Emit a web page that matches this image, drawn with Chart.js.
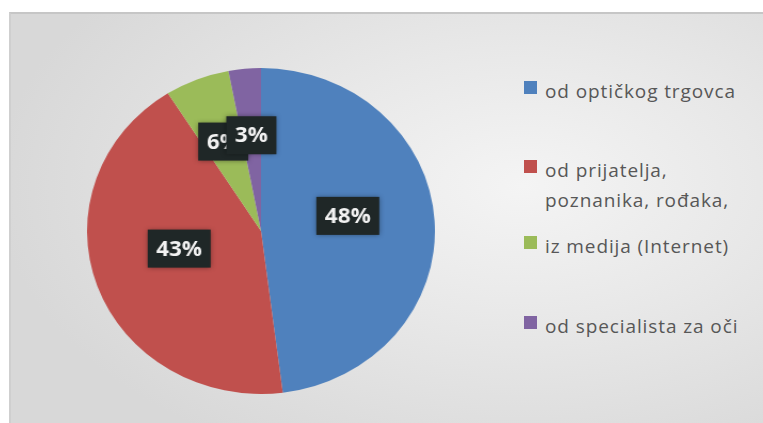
<!DOCTYPE html>
<html>
<head>
<meta charset="utf-8">
<script src="https://cdn.jsdelivr.net/npm/chart.js@4.4.0/dist/chart.umd.min.js"></script>
<style>
body { margin: 0; width: 763px; height: 423px; background: #fff; position: relative; overflow: hidden; font-family: 'Open Sans', sans-serif }
#panel {
    position: absolute; left: 9px; top: 12px; width: 754px; height: 411px;
    background: radial-gradient(ellipse 70% 75% at 68% 42%, #f4f4f4 0%, #e8e8e8 45%, #d8d8d8 100%);
    border-top: 2px solid #c6c6c6; border-left: 2px solid #cfcfcf; box-sizing: border-box;
}
#pieWrap { position: absolute; left: 97.5px; top: 68px; width: 326px; height: 326px; transform: scaleX(1.067); transform-origin: 163px 163px }
.item { position: absolute; left: 524px; font-size: 19px; line-height: 30px; color: #575757; white-space: nowrap; letter-spacing: 0.9px }
.item .box { position: absolute; left: 0; top: 5px; width: 13px; height: 13px }
.item .txt { margin-left: 21px }
</style>
</head>
<body>
<div id="panel"></div>
<div id="pieWrap"><canvas id="chart" width="326" height="326"></canvas></div>
<div id="legend"></div>
<script>
// data
const labels = ['od optičkog trgovca', ['od prijatelja,', 'poznanika, rođaka,'], 'iz medija (Internet)', 'od specialista za oči']
const values = [48, 43, 6, 3]
const colors = ['#4F81BD', '#C0504D', '#9BBB59', '#8064A2']

// legend (html, the entries are not evenly spaced in the original)
const legendTop = [76, 155, 231, 311]
let html = ''
for (let i = 0; i < labels.length; i++) {
    const text = Array.isArray(labels[i]) ? labels[i].join('<br>') : labels[i]
    html += `<div class="item" style="top:${legendTop[i]}px"><span class="box" style="background:${colors[i]}"></span><div class="txt">${text}</div></div>`
}
document.getElementById('legend').innerHTML = html

// dark boxes with the percentages
const boxLabels = {
    id: 'boxLabels',
    afterDatasetsDraw(chart) {
        const ctx = chart.ctx
        const meta = chart.getDatasetMeta(0)
        const data = chart.data.datasets[0].data
        const total = data.reduce((a, b) => a + b, 0)
        ctx.save()
        ctx.font = 'bold 21px "Open Sans"'
        ctx.textAlign = 'center'
        ctx.textBaseline = 'middle'
        meta.data.forEach((arc, i) => {
            const share = data[i] / total
            const big = share > 0.2
            const a = (arc.startAngle + arc.endAngle) / 2
            const r = arc.outerRadius * (big ? 0.5 : 0.59)
            const x = arc.x + Math.cos(a) * r
            const y = arc.y + Math.sin(a) * r - (big ? 10 : 0)
            const txt = Math.round(share * 100) + '%'
            const w = ctx.measureText(txt).width + 16
            const h = 38
            ctx.shadowColor = 'rgba(0,0,0,0.45)'
            ctx.shadowBlur = 5
            ctx.fillStyle = '#1f2727'
            ctx.fillRect(x - w / 2, y - h / 2, w, h)
            ctx.shadowBlur = 0
            ctx.fillStyle = '#f2f2f2'
            ctx.fillText(txt, x, y + 1)
        })
        ctx.restore()
    }
}

new Chart(document.getElementById('chart'), {
    type: 'pie',
    data: {
        labels: labels,
        datasets: [{
            data: values,
            backgroundColor: colors,
            borderWidth: 0
        }]
    },
    options: {
        responsive: false,
        animation: false,
        layout: { padding: 0 },
        plugins: {
            legend: { display: false },
            tooltip: { enabled: false }
        }
    },
    plugins: [boxLabels]
})
</script>
</body>
</html>
